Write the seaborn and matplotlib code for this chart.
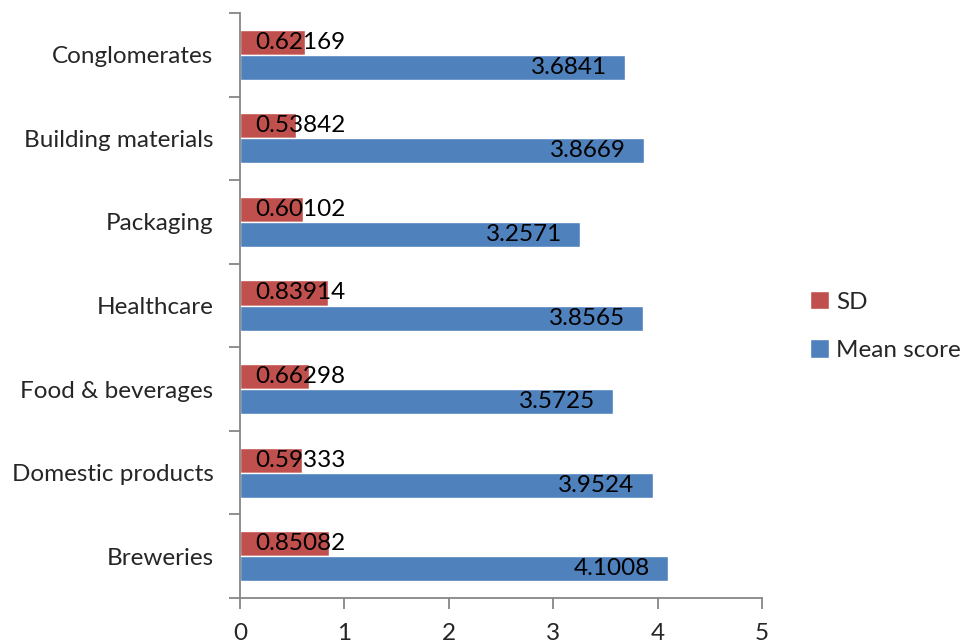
import matplotlib
matplotlib.use("Agg")
import matplotlib.pyplot as plt
import seaborn as sns
import pandas as pd
import numpy as np

# Sectors, listed top to bottom
sectors = ["Conglomerates", "Building materials", "Packaging", "Healthcare",
           "Food & beverages", "Domestic products", "Breweries"]
sd_values = [0.62169, 0.53842, 0.60102, 0.83914, 0.66298, 0.59333, 0.85082]
mean_values = [3.6841, 3.8669, 3.2571, 3.8565, 3.5725, 3.9524, 4.1008]
series_names = ["SD", "Mean score"]
series_colors = ["#C0504D", "#4F81BD"]
x_ticks = [0, 1, 2, 3, 4, 5]

df = pd.DataFrame({
    "sector": sectors * 2,
    "series": [series_names[0]] * len(sectors) + [series_names[1]] * len(sectors),
    "value": sd_values + mean_values,
})

sns.set_style("white")
plt.rcParams["font.family"] = ["Lato", "DejaVu Sans"]
FS = 17.5

fig = plt.figure(figsize=(9.65, 6.44), dpi=100)
ax = fig.add_axes([240 / 965, 1 - 598 / 644, (762 - 240) / 965, (598 - 13) / 644])

sns.barplot(data=df, y="sector", x="value", hue="series", order=sectors,
            hue_order=series_names, palette=series_colors, orient="h",
            width=0.6, dodge=True, saturation=1, ax=ax, legend=True)

ax.set_xlim(0, 5)
ax.set_ylim(len(sectors) - 0.5, -0.5)
ax.set_xlabel("")
ax.set_ylabel("")
ax.set_xticks(x_ticks)
ax.set_xticklabels([str(t) for t in x_ticks], fontsize=FS)

# Category labels without tick marks; tick marks sit on the band boundaries
ax.tick_params(axis="y", which="major", length=0, pad=19, labelsize=FS)
ax.set_yticks(np.arange(-0.5, len(sectors), 1.0), minor=True)
ax.tick_params(axis="y", which="minor", length=8, width=1.3, color="#868686", direction="out")
ax.tick_params(axis="x", which="major", length=8, width=1.3, color="#868686",
               direction="out", pad=10)
ax.tick_params(left=True, bottom=True, which="both")
ax.tick_params(axis="y", which="major", left=False)

for side in ["top", "right"]:
    ax.spines[side].set_visible(False)
for side in ["left", "bottom"]:
    ax.spines[side].set_color("#868686")
    ax.spines[side].set_linewidth(1.3)

# Value labels: SD inside base, mean score inside end
for i, (sd, mn) in enumerate(zip(sd_values, mean_values)):
    ax.annotate(f"{sd}", xy=(0, i - 0.15), xytext=(11, 0), textcoords="offset points",
                ha="left", va="center", fontsize=FS, color="black")
    ax.annotate(f"{mn}", xy=(mn, i + 0.15), xytext=(-13, 0), textcoords="offset points",
                ha="right", va="center", fontsize=FS, color="black")

handles, labels = ax.get_legend_handles_labels()
ax.legend(handles, labels, loc="center left", bbox_to_anchor=(810 / 965, 1 - 326 / 644),
          bbox_transform=fig.transFigure, frameon=False, fontsize=FS,
          handlelength=0.78, handleheight=0.78, handletextpad=0.3, labelspacing=1.1,
          borderaxespad=0, borderpad=0)

fig.savefig("out.png", dpi=100)
